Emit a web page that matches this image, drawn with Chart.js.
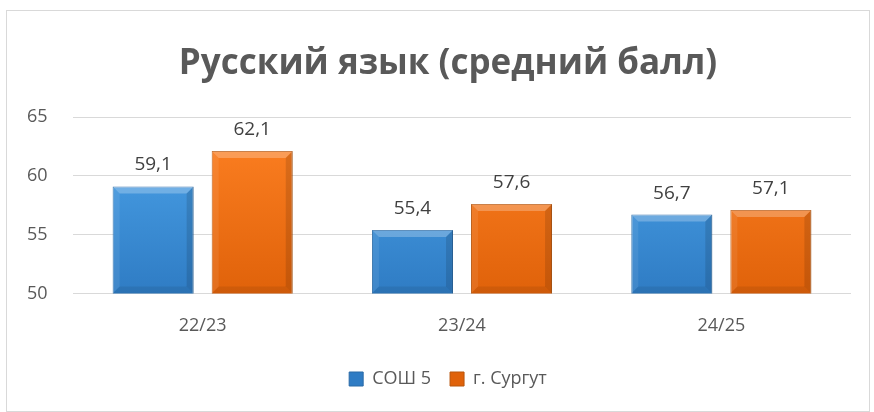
<!DOCTYPE html>
<html lang="ru">
<head>
<meta charset="utf-8">
<script src="https://cdn.jsdelivr.net/npm/chart.js@4"></script>
<style>
  body { margin: 0; background: #fff; }
  #wrap {
    position: absolute; left: 6px; top: 10px;
    width: 862px; height: 400px;
    border: 1px solid #d9d9d9; background: #fff;
  }
</style>
</head>
<body>
<div id="wrap"><canvas id="chart"></canvas></div>
<script>
// Данные диаграммы
const years = ['22/23', '23/24', '24/25'];
const school = [59.1, 55.4, 56.7];
const city = [62.1, 57.6, 57.1];
const seriesNames = ['СОШ 5', 'г. Сургут'];

const FONT = "'Open Sans', 'Noto Sans', sans-serif";

// Градиентная заливка столбца
function barFill(light, dark) {
    return function(context) {
        const chart = context.chart;
        const area = chart.chartArea;
        if (!area) return dark;
        const g = chart.ctx.createLinearGradient(0, area.top, 0, area.bottom);
        g.addColorStop(0, light);
        g.addColorStop(1, dark);
        return g;
    };
}

// Подписи значений и «фаска» у столбцов
const barDecor = {
    id: 'barDecor',
    afterDatasetsDraw(chart) {
        const ctx = chart.ctx;
        const area = chart.chartArea;
        chart.data.datasets.forEach(function(ds, i) {
            const meta = chart.getDatasetMeta(i);
            meta.data.forEach(function(bar, j) {
                const left = bar.x - bar.width / 2;
                const right = bar.x + bar.width / 2;
                const top = bar.y;
                const bottom = Math.min(bar.base, area.bottom);
                const b = 7;
                ctx.save();
                // верхняя фаска
                ctx.fillStyle = 'rgba(255,255,255,0.25)';
                ctx.beginPath();
                ctx.moveTo(left, top); ctx.lineTo(right, top);
                ctx.lineTo(right - b, top + b); ctx.lineTo(left + b, top + b);
                ctx.closePath(); ctx.fill();
                // боковые грани
                ctx.fillStyle = 'rgba(0,0,0,0.12)';
                ctx.beginPath();
                ctx.moveTo(right, top); ctx.lineTo(right, bottom);
                ctx.lineTo(right - b, bottom - b); ctx.lineTo(right - b, top + b);
                ctx.closePath(); ctx.fill();
                ctx.fillStyle = 'rgba(255,255,255,0.08)';
                ctx.beginPath();
                ctx.moveTo(left, top); ctx.lineTo(left, bottom);
                ctx.lineTo(left + b, bottom - b); ctx.lineTo(left + b, top + b);
                ctx.closePath(); ctx.fill();
                ctx.fillStyle = 'rgba(0,0,0,0.08)';
                ctx.beginPath();
                ctx.moveTo(left, bottom); ctx.lineTo(right, bottom);
                ctx.lineTo(right - b, bottom - b); ctx.lineTo(left + b, bottom - b);
                ctx.closePath(); ctx.fill();
                // подпись
                ctx.fillStyle = '#404040';
                ctx.font = '19px ' + FONT;
                ctx.textAlign = 'center';
                ctx.textBaseline = 'bottom';
                ctx.fillText(String(ds.data[j]).replace('.', ','), bar.x, top - 12);
                ctx.restore();
            });
        });
    }
};

const config = {
    type: 'bar',
    data: {
        labels: years,
        datasets: [{
            label: seriesNames[0],
            data: school,
            backgroundColor: barFill('#4ea6ec', '#2f7cc4'),
            borderColor: '#2a6aa6',
            borderWidth: 1,
            borderSkipped: false
        }, {
            label: seriesNames[1],
            data: city,
            backgroundColor: barFill('#ff8224', '#e0620a'),
            borderColor: '#b8560c',
            borderWidth: 1,
            borderSkipped: false
        }]
    },
    options: {
        responsive: true,
        maintainAspectRatio: false,
        animation: false,
        categoryPercentage: 0.764,
        barPercentage: 0.818,
        layout: { padding: { left: 38, right: 18, top: 0, bottom: 13 } },
        plugins: {
            title: {
                display: true,
                text: 'Русский язык (средний балл)',
                color: '#595959',
                font: { family: FONT, size: 35, weight: 'bold' },
                padding: { top: 32, bottom: 32 }
            },
            legend: {
                position: 'bottom',
                labels: {
                    color: '#595959',
                    font: { family: FONT, size: 18 },
                    boxWidth: 14,
                    boxHeight: 14,
                    padding: 19
                }
            },
            tooltip: { enabled: false }
        },
        scales: {
            x: {
                grid: { display: false },
                border: { display: false },
                ticks: { color: '#595959', font: { family: FONT, size: 18 }, padding: 14 }
            },
            y: {
                min: 50,
                max: 65,
                afterFit: function(scale) { scale.width = 28; },
                ticks: { stepSize: 5, mirror: true, padding: -46, color: '#595959', font: { family: FONT, size: 18 } },
                grid: { color: '#d9d9d9', drawTicks: false },
                border: { display: false }
            }
        }
    },
    plugins: [barDecor]
};

new Chart(document.getElementById('chart'), config);
</script>
</body>
</html>
